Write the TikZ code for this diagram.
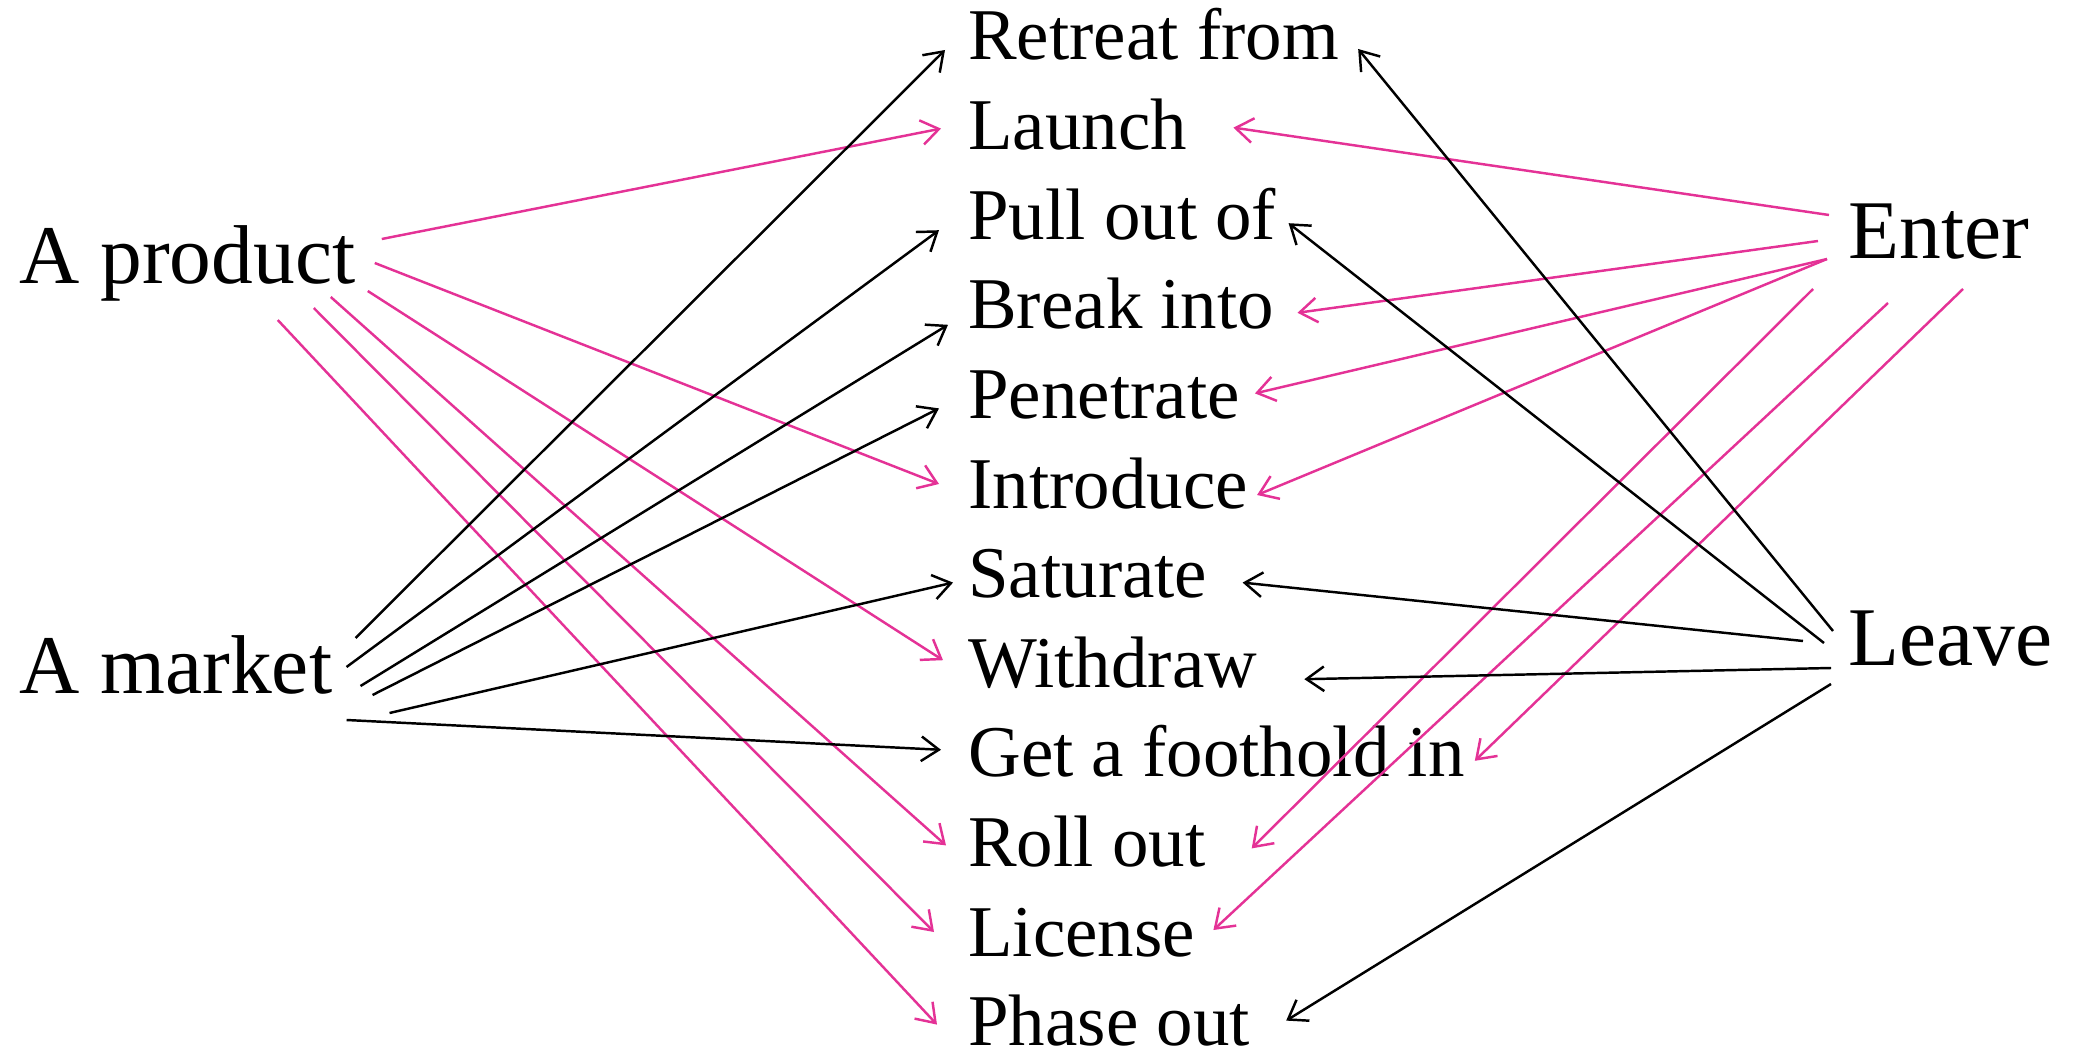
\documentclass[tikz,border=0pt]{standalone}
\usepackage{fontspec}
\setmainfont{Liberation Serif}
\usetikzlibrary{arrows.meta}
\definecolor{pnk}{RGB}{228,50,150}
\tikzset{
  verb/.style={anchor=base west,inner sep=0pt,font=\fontsize{41.5}{50}\selectfont},
  side/.style={anchor=base west,inner sep=0pt,font=\fontsize{47.5}{57}\selectfont},
  lnk/.style={line width=1.4pt,-{Straight Barb[length=10pt,width=14pt]}},
  pk/.style={lnk,pnk},
  bk/.style={lnk,black}
}

\begin{document}
\begin{tikzpicture}[x=0.02cm,y=-0.02cm]
    \useasboundingbox (0,0) rectangle (2087,1051);

    \node[side] (prod) at (19,283) {A product};
    \node[side] (mkt) at (19,693) {A market};
    \node[side] (ent) at (1848,258) {Enter};
    \node[side] (lv) at (1848,665) {Leave};

    \foreach \nm/\txt [count=\k from 0] in {rf/Retreat from,la/Launch,po/Pull out of,bi/Break into,pe/Penetrate,intro/Introduce,sa/Saturate,wd/Withdraw,gf/Get a foothold in,ro/Roll out,li/License,ph/Phase out}
        \node[verb] (\nm) at (968,{60+89.6*\k}) {\txt};

    % a product
    \draw[pk] ([shift={(26,-44)}]prod.base east) -- ([shift={(-27,-21)}]la.base west);
    \draw[pk] ([shift={(19,-20)}]prod.base east) -- ([shift={(-29,-24)}]intro.base west);
    \draw[pk] ([shift={(12,8)}]prod.base east) -- ([shift={(-25,-27)}]wd.base west);
    \draw[pk] ([shift={(-25,14)}]prod.base east) -- ([shift={(-22,-21)}]ro.base west);
    \draw[pk] ([shift={(-42,25)}]prod.base east) -- ([shift={(-34,-24)}]li.base west);
    \draw[pk] ([shift={(-78,37)}]prod.base east) -- ([shift={(-31,-21)}]ph.base west);

    % a market
    \draw[bk] ([shift={(23,-55)}]mkt.base east) -- ([shift={(-23,-10)}]rf.base west);
    \draw[bk] ([shift={(14,-26)}]mkt.base east) -- ([shift={(-29,-9)}]po.base west);
    \draw[bk] ([shift={(28,-7)}]mkt.base east) -- ([shift={(-20,-4)}]bi.base west);
    \draw[bk] ([shift={(40,2)}]mkt.base east) -- ([shift={(-29,-10)}]pe.base west);
    \draw[bk] ([shift={(57,20)}]mkt.base east) -- ([shift={(-15,-15)}]sa.base west);
    \draw[bk] ([shift={(14,27)}]mkt.base east) -- ([shift={(-27,-27)}]gf.base west);

    % enter
    \draw[pk] ([shift={(-19,-43)}]ent.base west) -- ([shift={(46,-22)}]la.base east);
    \draw[pk] ([shift={(-30,-17)}]ent.base west) -- ([shift={(23,-16)}]bi.base east);
    \draw[pk] ([shift={(-21,1)}]ent.base west) -- ([shift={(15,-25)}]pe.base east);
    \draw[pk] ([shift={(-21,1)}]ent.base west) -- ([shift={(9,-13)}]intro.base east);
    \draw[pk] ([shift={(-35,31)}]ent.base west) -- ([shift={(46,-18)}]ro.base east);
    \draw[pk] ([shift={(40,45)}]ent.base west) -- ([shift={(18,-26)}]li.base east);
    \draw[pk] ([shift={(115,31)}]ent.base west) -- ([shift={(10,-16)}]gf.base east);

    % leave
    \draw[bk] ([shift={(-15,-34)}]lv.base west) -- ([shift={(19,-11)}]rf.base east);
    \draw[bk] ([shift={(-24,-22)}]lv.base west) -- ([shift={(12,-16)}]po.base east);
    \draw[bk] ([shift={(-45,-24)}]lv.base west) -- ([shift={(35,-15)}]sa.base east);
    \draw[bk] ([shift={(-17,3)}]lv.base west) -- ([shift={(47,-8)}]wd.base east);
    \draw[bk] ([shift={(-17,19)}]lv.base west) -- ([shift={(36,-25)}]ph.base east);
\end{tikzpicture}
\end{document}
